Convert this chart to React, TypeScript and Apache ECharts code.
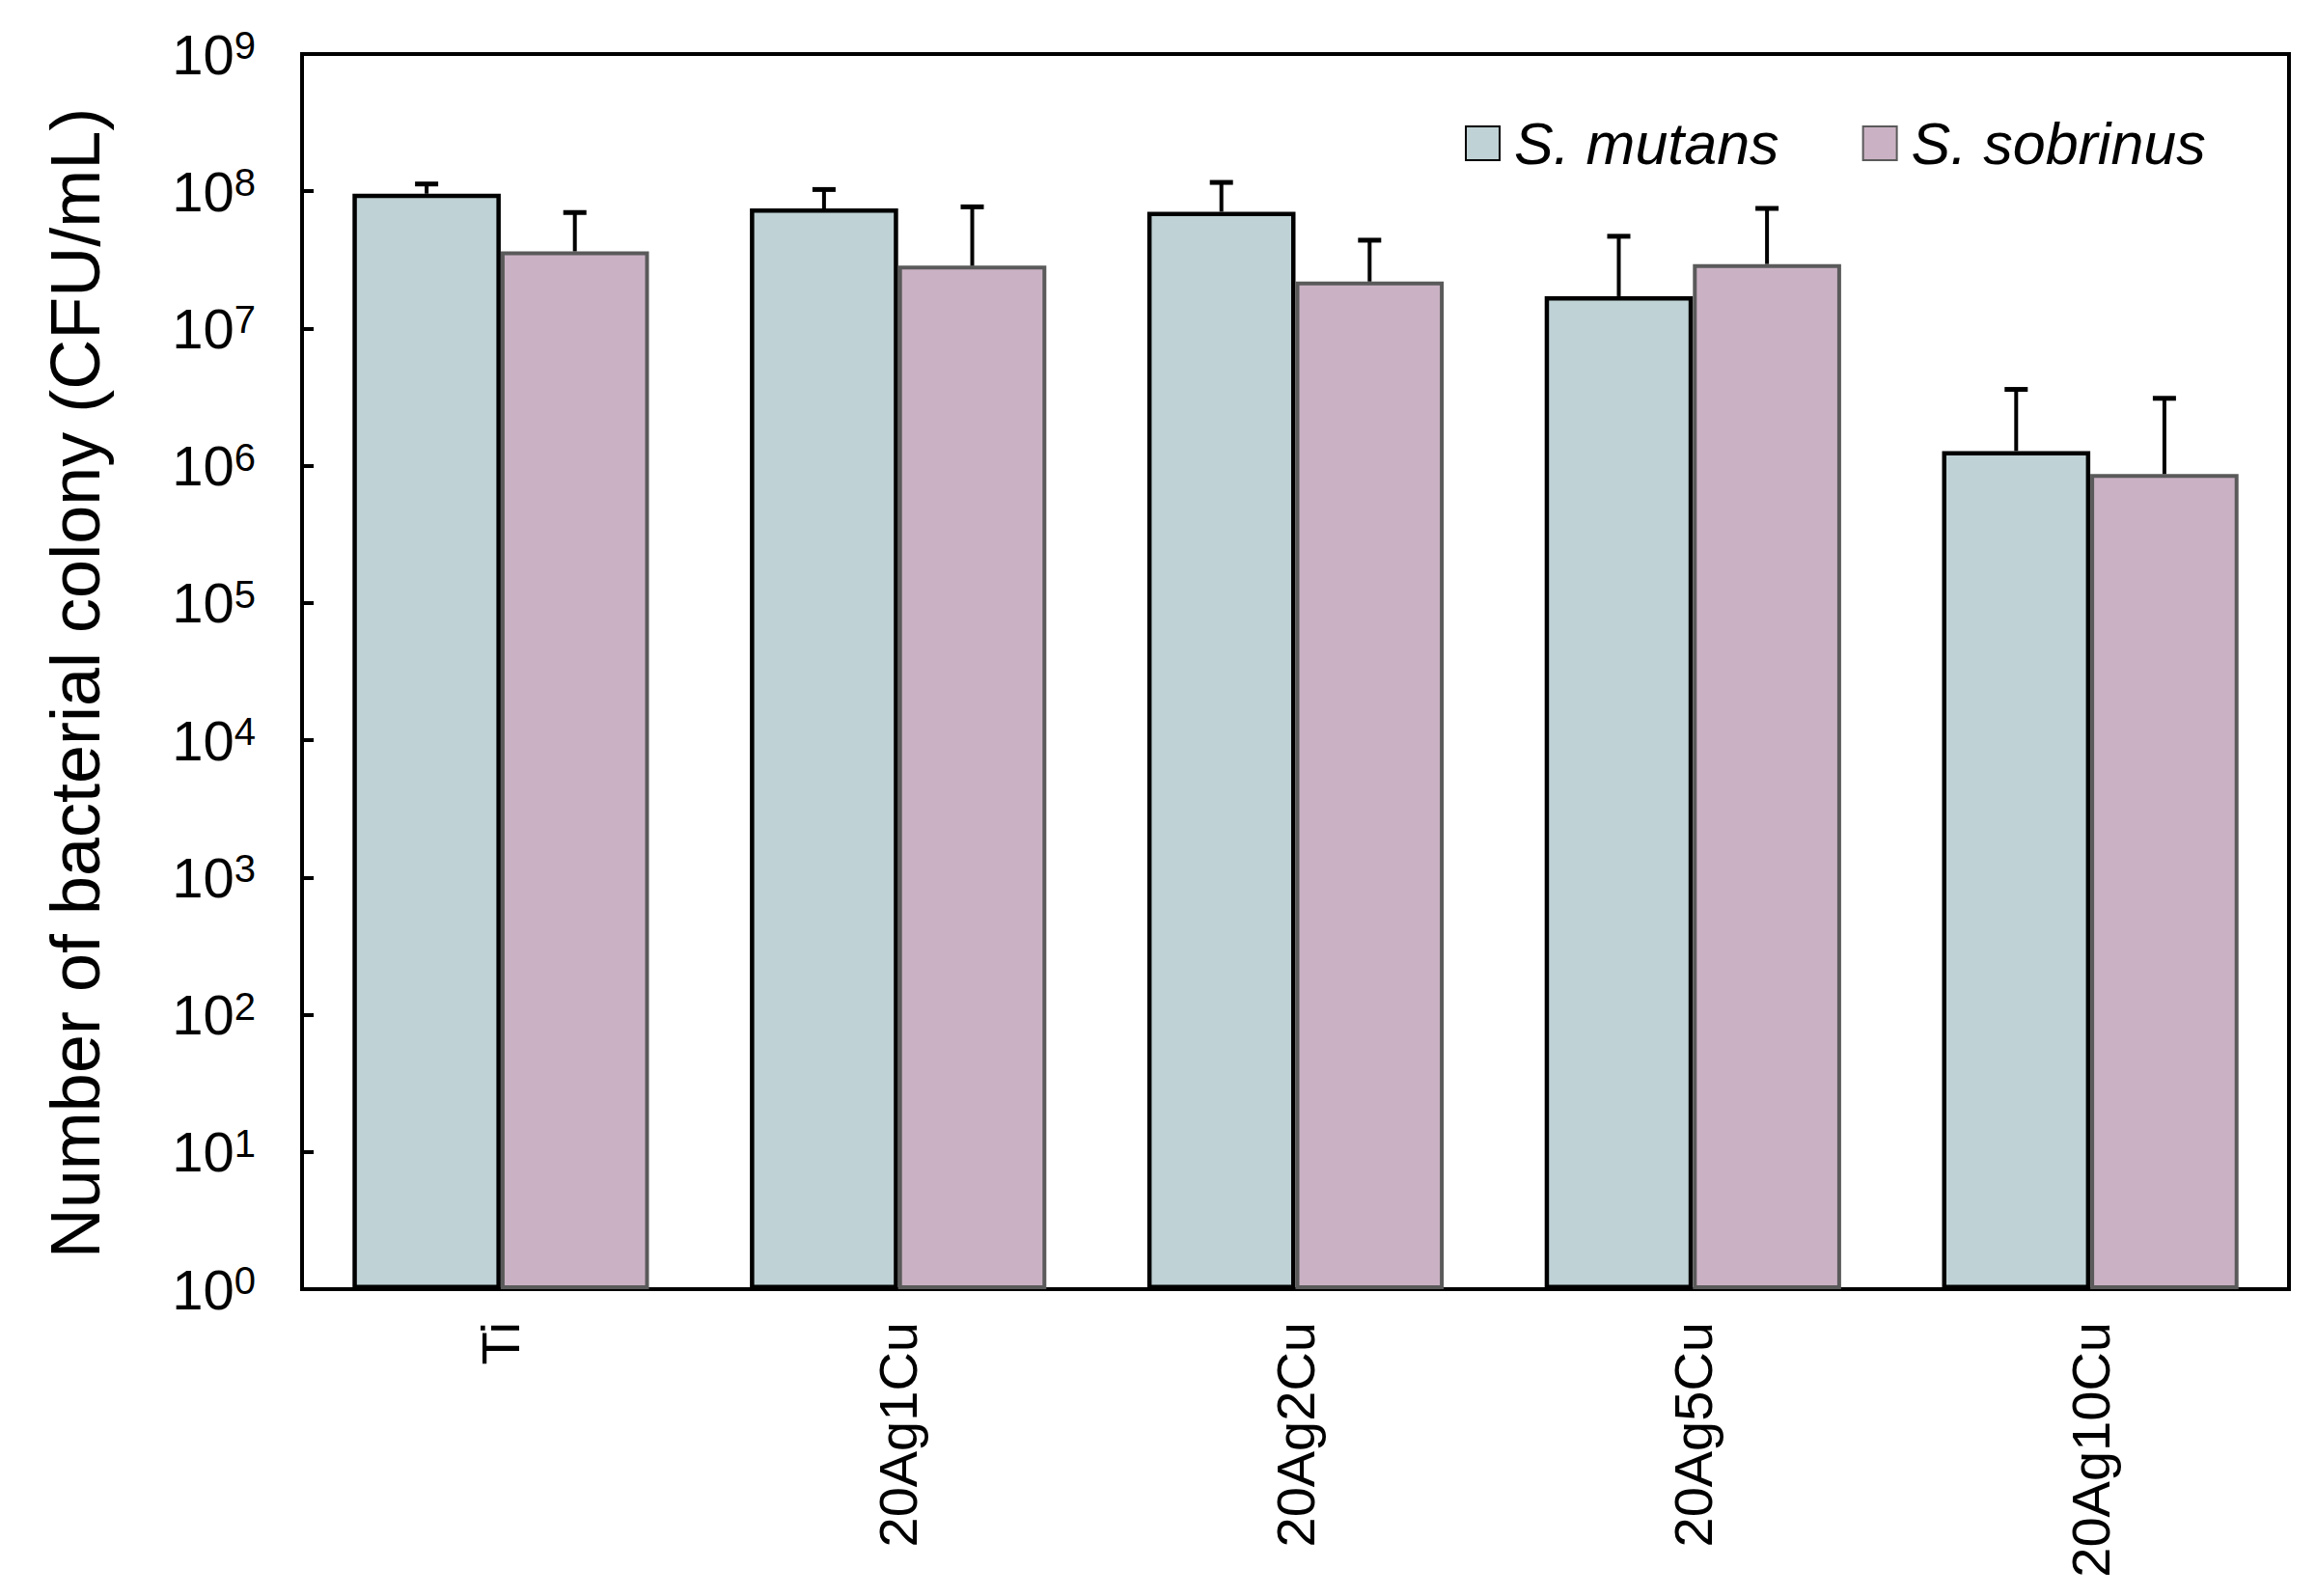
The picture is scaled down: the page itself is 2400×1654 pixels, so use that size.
import React, { useEffect, useRef } from "react";
import * as echarts from "echarts";

const categories = ["Ti", "20Ag1Cu", "20Ag2Cu", "20Ag5Cu", "20Ag10Cu"];
const seriesNames = ["S. mutans", "S. sobrinus"];
const mutansMean = [9.6e7, 7.5e7, 7.1e7, 1.72e7, 1.28e6];
const mutansUpper = [1.13e8, 1.03e8, 1.16e8, 4.7e7, 3.6e6];
const sobrinusMean = [3.65e7, 2.87e7, 2.2e7, 2.95e7, 8.7e5];
const sobrinusUpper = [7.0e7, 7.7e7, 4.4e7, 7.5e7, 3.1e6];
const yMin = 1;
const yMax = 1e9;

const FONT = "'Liberation Sans', Arial, sans-serif";
const BAR_FRAC = 0.373;

function errorSeries(name: string, means: number[], uppers: number[], side: number) {
  return {
    type: "custom",
    name: name + " error",
    z: 5,
    data: means.map((m, i) => [i, m, uppers[i]]),
    encode: { x: 0, y: [1, 2] },
    renderItem: (params: any, api: any) => {
      const idx = api.value(0);
      const p0 = api.coord([idx, api.value(1)]);
      const p1 = api.coord([idx, api.value(2)]);
      const band = api.size([1, 1])[0];
      const x = p0[0] + side * band * BAR_FRAC * 0.5;
      const cap = 12;
      const style = { stroke: "#000", lineWidth: 4 };
      return {
        type: "group",
        children: [
          { type: "line", shape: { x1: x, y1: p0[1], x2: x, y2: p1[1] }, style },
          { type: "line", shape: { x1: x - cap, y1: p1[1], x2: x + cap, y2: p1[1] }, style: { stroke: "#000", lineWidth: 5 } },
        ],
      };
    },
  };
}

export default function App() {
  const ref = useRef<HTMLDivElement>(null);
  useEffect(() => {
    document.body.style.margin = "0";
    const chart = echarts.init(ref.current!, null, { renderer: "svg" });
    chart.setOption({
      animation: false,
      backgroundColor: "#fff",
      textStyle: { fontFamily: FONT },
      grid: {
        left: 313,
        right: 28,
        top: 56,
        bottom: 318,
        show: true,
        borderColor: "#000",
        borderWidth: 4,
        backgroundColor: "transparent",
      },
      legend: {
        data: seriesNames,
        left: 1518,
        top: 118,
        padding: 0,
        itemGap: 86,
        itemWidth: 35,
        itemHeight: 35,
        icon: "rect",
        textStyle: {
          fontFamily: FONT,
          fontSize: 61,
          fontStyle: "italic",
          color: "#000",
          padding: [0, 0, 0, 10],
        },
      },
      xAxis: {
        type: "category",
        data: categories,
        axisTick: { show: false },
        axisLine: { lineStyle: { color: "#000", width: 4 } },
        axisLabel: {
          rotate: 90,
          margin: 34,
          fontSize: 56,
          color: "#000",
          fontFamily: FONT,
        },
      },
      yAxis: {
        type: "log",
        logBase: 10,
        min: yMin,
        max: yMax,
        interval: 1,
        splitLine: { show: false },
        axisLine: { show: true, lineStyle: { color: "#000", width: 4 } },
        axisTick: { show: true, inside: true, length: 12, lineStyle: { color: "#000", width: 4 } },
        axisLabel: {
          margin: 48,
          color: "#000",
          fontFamily: FONT,
          formatter: (v: number) => `{b|10}{s|${Math.round(Math.log10(v))}}`,
          rich: {
            b: { fontSize: 58, lineHeight: 58, fontFamily: FONT, color: "#000" },
            s: { fontSize: 40, lineHeight: 44, verticalAlign: "top", fontFamily: FONT, color: "#000" },
          },
        },
      },
      series: [
        {
          type: "bar",
          name: seriesNames[0],
          data: mutansMean,
          barWidth: (BAR_FRAC * 100).toFixed(1) + "%",
          barGap: "0%",
          itemStyle: { color: "#BFD2D5", borderColor: "#000", borderWidth: 4.5 },
        },
        {
          type: "bar",
          name: seriesNames[1],
          data: sobrinusMean,
          barWidth: (BAR_FRAC * 100).toFixed(1) + "%",
          barGap: "0%",
          itemStyle: { color: "#CAB2C4", borderColor: "#5A5A5A", borderWidth: 4 },
        },
        errorSeries(seriesNames[0], mutansMean, mutansUpper, -1),
        errorSeries(seriesNames[1], sobrinusMean, sobrinusUpper, 1),
      ],
      graphic: [
        {
          type: "text",
          x: 78,
          y: 708,
          rotation: Math.PI / 2,
          style: {
            text: "Number of bacterial colony (CFU/mL)",
            fontFamily: FONT,
            fontSize: 72,
            fill: "#000",
            align: "center",
            verticalAlign: "middle",
          },
        },
      ],
    });
    return () => chart.dispose();
  }, []);
  return <div ref={ref} style={{ width: 2400, height: 1654 }} />;
}
